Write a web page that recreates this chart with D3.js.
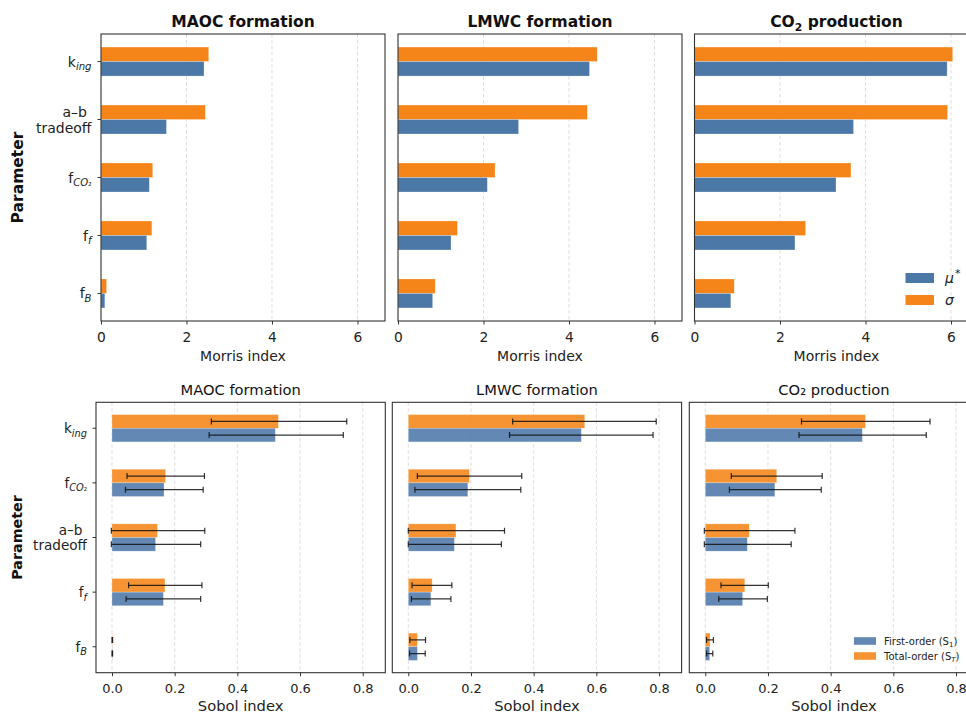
<!DOCTYPE html>
<html><head><meta charset="utf-8">
<script src="https://cdn.jsdelivr.net/npm/d3@7"></script>
<style>
html,body{margin:0;padding:0;background:#fff;}
svg{display:block;font-family:"DejaVu Sans",sans-serif;}
</style></head>
<body><svg id="fig" width="966" height="713"></svg>
<script>
// ---------- DATA ----------
const morrisParams = ["k_ing", "ab", "f_CO2", "f_f", "f_B"];
const morrisTitles = ["MAOC formation", "LMWC formation", "CO2 production"];
const muStarMAOC = [2.41, 1.53, 1.13, 1.07, 0.09];
const sigmaMAOC  = [2.52, 2.44, 1.21, 1.19, 0.13];
const muStarLMWC = [4.48, 2.82, 2.09, 1.24, 0.81];
const sigmaLMWC  = [4.66, 4.43, 2.27, 1.39, 0.87];
const muStarCO2  = [5.91, 3.72, 3.31, 2.35, 0.85];
const sigmaCO2   = [6.04, 5.92, 3.66, 2.60, 0.93];
const morrisTicks = [0, 2, 4, 6];

const sobolParams = ["k_ing", "f_CO2", "ab", "f_f", "f_B"];
const sobolTitles = ["MAOC formation", "LMWC formation", "CO₂ production"];
const s1MAOC   = [0.521, 0.166, 0.139, 0.164, 0.001];
const s1LoMAOC = [0.310, 0.043, -0.002, 0.045, 0.000];
const s1HiMAOC = [0.738, 0.291, 0.283, 0.283, 0.002];
const stMAOC   = [0.531, 0.171, 0.145, 0.169, 0.001];
const stLoMAOC = [0.317, 0.048, -0.002, 0.053, 0.000];
const stHiMAOC = [0.749, 0.295, 0.296, 0.287, 0.002];

const s1LMWC   = [0.552, 0.190, 0.147, 0.072, 0.029];
const s1LoLMWC = [0.323, 0.021, 0.000, 0.010, 0.004];
const s1HiLMWC = [0.781, 0.359, 0.297, 0.136, 0.054];
const stLMWC   = [0.563, 0.195, 0.152, 0.076, 0.029];
const stLoLMWC = [0.333, 0.029, 0.000, 0.012, 0.005];
const stHiLMWC = [0.791, 0.362, 0.307, 0.139, 0.055];

const s1CO2    = [0.501, 0.222, 0.134, 0.119, 0.014];
const s1LoCO2  = [0.299, 0.077, -0.003, 0.043, 0.004];
const s1HiCO2  = [0.705, 0.370, 0.274, 0.198, 0.024];
const stCO2    = [0.511, 0.228, 0.140, 0.126, 0.015];
const stLoCO2  = [0.307, 0.083, -0.003, 0.050, 0.004];
const stHiCO2  = [0.717, 0.373, 0.286, 0.201, 0.026];
const sobolTicks = [0.0, 0.2, 0.4, 0.6, 0.8];

// ---------- STYLE ----------
const BLUE = "#4c78a8", ORANGE = "#f58518";
const TXT = "#222";
const svg = d3.select("#fig");

function paramLabel(t, key, fs) {
  t.attr("font-size", fs);
  if (key === "k_ing") {
    t.append("tspan").text("k");
    t.append("tspan").text("ing").attr("font-style", "italic").attr("font-size", fs * 0.72).attr("dy", fs * 0.27);
  } else if (key === "f_CO2") {
    t.append("tspan").text("f");
    t.append("tspan").text("CO").attr("font-style", "italic").attr("font-size", fs * 0.72).attr("dy", fs * 0.27);
    t.append("tspan").text("₂").attr("font-size", fs * 0.6).attr("dy", 0);
  } else if (key === "f_f") {
    t.append("tspan").text("f");
    t.append("tspan").text("f").attr("font-style", "italic").attr("font-size", fs * 0.72).attr("dy", fs * 0.27);
  } else if (key === "f_B") {
    t.append("tspan").text("f");
    t.append("tspan").text("B").attr("font-style", "italic").attr("font-size", fs * 0.72).attr("dy", fs * 0.27);
  }
}

function drawPanel(opt) {
  const x = d3.scaleLinear().domain(opt.xdom).range([opt.left, opt.right]);
  const y = d3.scaleLinear().domain([-0.475, opt.params.length - 0.525]).range([opt.top, opt.bottom]);
  const g = svg.append("g");
  const clipId = "clip" + Math.round(opt.left) + "_" + Math.round(opt.top);
  svg.append("clipPath").attr("id", clipId).append("rect")
    .attr("x", opt.left).attr("y", opt.top).attr("width", opt.right - opt.left).attr("height", opt.bottom - opt.top);
  const inner = g.append("g").attr("clip-path", `url(#${clipId})`);
  // grid
  inner.selectAll("line.grid").data(opt.ticks).join("line")
    .attr("x1", d => x(d)).attr("x2", d => x(d)).attr("y1", opt.top).attr("y2", opt.bottom)
    .attr("stroke", "#d9d9d9").attr("stroke-width", 0.9).attr("stroke-dasharray", "3.5,2.5");
  const bh = y(0.25) - y(0);
  const idx = d3.range(opt.params.length);
  inner.selectAll("rect.up").data(idx).join("rect")
    .attr("x", x(0)).attr("y", i => y(i - 0.25)).attr("height", bh)
    .attr("width", i => x(opt.upper[i]) - x(0))
    .attr("fill", ORANGE).attr("fill-opacity", opt.alpha)
    .attr("stroke", "#fff").attr("stroke-opacity", 0.5).attr("stroke-width", 0.5);
  inner.selectAll("rect.lo").data(idx).join("rect")
    .attr("x", x(0)).attr("y", i => y(i)).attr("height", bh)
    .attr("width", i => x(opt.lower[i]) - x(0))
    .attr("fill", BLUE).attr("fill-opacity", opt.alpha)
    .attr("stroke", "#fff").attr("stroke-opacity", 0.5).attr("stroke-width", 0.5);
  if (opt.errs) {
    opt.errs.forEach(e => {
      idx.forEach(i => {
        const yc = y(i + e.off);
        const x1 = x(e.lo[i]), x2 = x(e.hi[i]);
        const eg = inner.append("g").attr("stroke", "#111").attr("stroke-opacity", 0.85).attr("stroke-width", 1.2);
        eg.append("line").attr("x1", x1).attr("x2", x2).attr("y1", yc).attr("y2", yc);
        eg.append("line").attr("x1", x1).attr("x2", x1).attr("y1", yc - 3).attr("y2", yc + 3);
        eg.append("line").attr("x1", x2).attr("x2", x2).attr("y1", yc - 3).attr("y2", yc + 3);
      });
    });
  }
  g.append("rect").attr("x", opt.left).attr("y", opt.top)
    .attr("width", opt.right - opt.left).attr("height", opt.bottom - opt.top)
    .attr("fill", "none").attr("stroke", "#333").attr("stroke-width", 1.1);
  const xa = g.append("g").attr("transform", `translate(0,${opt.bottom})`)
    .call(d3.axisBottom(x).tickValues(opt.ticks).tickFormat(opt.fmt).tickSize(3.5).tickPadding(4));
  xa.select(".domain").remove();
  xa.selectAll(".tick line").attr("stroke", "#333");
  xa.selectAll(".tick text").attr("font-size", opt.tickFs).attr("fill", TXT)
    .attr("font-family", "DejaVu Sans").attr("dy", null).attr("y", opt.tickTextY);
  g.append("text").attr("x", (opt.left + opt.right) / 2).attr("y", opt.xlabY)
    .attr("text-anchor", "middle").attr("font-size", opt.labFs).attr("fill", TXT).text(opt.xlabel);
  const tt = g.append("text").attr("x", (opt.left + opt.right) / 2).attr("y", opt.titleY)
    .attr("text-anchor", "middle").attr("font-size", opt.titleFs).attr("fill", "#111")
    .attr("font-weight", opt.titleBold ? "bold" : "normal");
  if (opt.title === "CO2 production") {
    tt.append("tspan").text("CO");
    tt.append("tspan").text("2").attr("font-size", opt.titleFs * 0.7).attr("dy", opt.titleFs * 0.25);
    tt.append("tspan").text(" production").attr("dy", -opt.titleFs * 0.25);
  } else tt.text(opt.title);
  if (opt.ylabels) {
    idx.forEach(i => {
      const yc = y(i);
      g.append("line").attr("x1", opt.left - 3.5).attr("x2", opt.left).attr("y1", yc).attr("y2", yc)
        .attr("stroke", "#333").attr("stroke-width", 1);
      const key = opt.params[i];
      const tx = opt.left - 3.5 - opt.ylabPad;
      if (key === "ab") {
        g.append("text").attr("x", tx - 4.5).attr("y", yc - 3).attr("text-anchor", "end")
          .attr("font-size", opt.ylabFs).attr("fill", TXT).text("a–b");
        g.append("text").attr("x", tx).attr("y", yc + opt.ylabFs * 0.95).attr("text-anchor", "end")
          .attr("font-size", opt.ylabFs).attr("fill", TXT).text("tradeoff");
      } else {
        const t = g.append("text").attr("x", tx).attr("y", yc + opt.ylabFs * 0.36)
          .attr("text-anchor", "end").attr("fill", TXT);
        paramLabel(t, key, opt.ylabFs);
      }
    });
    g.append("text").attr("transform", `translate(${opt.paramX},${(opt.top + opt.bottom) / 2}) rotate(-90)`)
      .attr("text-anchor", "middle").attr("font-size", opt.paramFs).attr("font-weight", "bold")
      .attr("fill", "#111").text("Parameter");
  }
  return { x, y };
}

// ---------- TOP ROW (Morris) ----------
const morrisMu = [muStarMAOC, muStarLMWC, muStarCO2];
const morrisSig = [sigmaMAOC, sigmaLMWC, sigmaCO2];
const morrisMax = d3.max(morrisSig.flat()) * 1.1;
const topLefts = [101, 398, 694.5];
topLefts.forEach((L, k) => {
  drawPanel({
    left: L, right: L + 284, top: 34, bottom: 321,
    xdom: [0, morrisMax], ticks: morrisTicks, fmt: d3.format("d"),
    params: morrisParams, upper: morrisSig[k], lower: morrisMu[k], alpha: 1,
    tickFs: 13.8, tickTextY: 20.5, labFs: 14, xlabY: 361, xlabel: "Morris index",
    title: morrisTitles[k], titleY: 27.3, titleFs: 15.5, titleBold: true,
    ylabels: k === 0, ylabFs: 14, ylabPad: 6, paramX: 23, paramFs: 15.5
  });
});
(function () {
  const lg = svg.append("g");
  const items = [["mu", BLUE, 278], ["sigma", ORANGE, 300]];
  items.forEach(([k, c, yc]) => {
    lg.append("rect").attr("x", 905.5).attr("y", yc - 5).attr("width", 28.5).attr("height", 10).attr("fill", c);
    const t = lg.append("text").attr("x", 945).attr("y", yc + 5).attr("font-size", 14).attr("fill", TXT);
    if (k === "mu") {
      t.append("tspan").text("μ").attr("font-style", "italic");
      t.append("tspan").text("*").attr("font-size", 11).attr("dy", -6).attr("dx", 1);
    } else t.append("tspan").text("σ").attr("font-style", "italic");
  });
})();

// ---------- BOTTOM ROW (Sobol) ----------
const sobS1 = [s1MAOC, s1LMWC, s1CO2], sobS1Lo = [s1LoMAOC, s1LoLMWC, s1LoCO2], sobS1Hi = [s1HiMAOC, s1HiLMWC, s1HiCO2];
const sobST = [stMAOC, stLMWC, stCO2], sobSTLo = [stLoMAOC, stLoLMWC, stLoCO2], sobSTHi = [stHiMAOC, stHiLMWC, stHiCO2];
const botLefts = [96, 392.3, 689.3];
botLefts.forEach((L, k) => {
  drawPanel({
    left: L, right: L + 289.3, top: 402.3, bottom: 672.7,
    xdom: [-0.051, 0.872], ticks: sobolTicks, fmt: d3.format(".1f"),
    params: sobolParams, upper: sobST[k], lower: sobS1[k], alpha: 0.88,
    errs: [{ off: -0.125, lo: sobSTLo[k], hi: sobSTHi[k] }, { off: 0.125, lo: sobS1Lo[k], hi: sobS1Hi[k] }],
    tickFs: 13, tickTextY: 20, labFs: 14.7, xlabY: 711, xlabel: "Sobol index",
    title: sobolTitles[k], titleY: 395, titleFs: 14.7, titleBold: false,
    ylabels: k === 0, ylabFs: 13.6, ylabPad: 5.5, paramX: 22, paramFs: 14.3
  });
});
(function () {
  const lg = svg.append("g");
  const items = [["First-order (S", "1", BLUE, 641, false], ["Total-order (S", "T", ORANGE, 656, true]];
  items.forEach(([a, sub, c, yc, it]) => {
    lg.append("rect").attr("x", 854).attr("y", yc - 3.8).attr("width", 22).attr("height", 7.6)
      .attr("fill", c).attr("fill-opacity", 0.88);
    const t = lg.append("text").attr("x", 884).attr("y", yc + 3.6).attr("font-size", 10).attr("fill", TXT);
    t.append("tspan").text(a);
    const s = t.append("tspan").text(sub).attr("font-size", 7).attr("dy", 2);
    if (it) s.attr("font-style", "italic");
    t.append("tspan").text(")").attr("dy", -2);
  });
})();
</script></body></html>
